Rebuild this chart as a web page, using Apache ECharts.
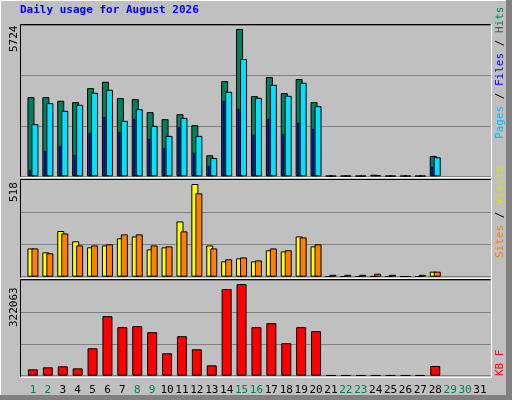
<!DOCTYPE html>
<html><head><meta charset="utf-8">
<script src="https://cdn.jsdelivr.net/npm/echarts@6/dist/echarts.min.js"></script>
<style>html,body{margin:0;padding:0;background:#c0c0c0}#c{width:512px;height:400px}</style>
</head><body><div id="c"></div>
<script>
const days = Array.from({length:31},(_,i)=>String(i+1));
const weekend = ['1','2','8','9','15','16','22','23','29','30'];
const hits  = [2996,2996,2857,2806,3337,3577,2958,2920,2427,2161,2351,1934,796,3602,5574,3034,3754,3147,3678,2806,20,20,20,60,20,20,20,771,null,null,null];
const files = [1972,2768,2477,2705,3160,3274,2098,2541,1909,1529,2212,1529,695,3198,4437,2970,3463,3046,3539,2654,20,20,20,40,20,20,20,721,null,null,null];
const pages = [240,961,1150,809,1643,2250,1681,2174,1416,1074,1871,885,392,2857,2553,1567,2174,1605,2022,1795,null,null,null,20,null,null,null,367,null,null,null];
const visits= [151,130,244,189,157,167,205,215,146,157,295,495,167,82,98,82,141,135,215,162,2,2,2,3,2,2,2,27,null,null,null];
const sites = [151,125,231,167,167,173,226,226,167,162,242,445,151,93,103,87,151,141,210,173,10,10,10,16,10,2,10,27,null,null,null];
const kbytes= [21470,28250,31640,24860,92660,201140,163850,167240,146900,75710,133340,89270,35030,292670,309620,163850,177410,109610,163850,150290,1500,1500,1500,1500,1500,1500,1500,32800,null,null,null];
const maxHits=5724, maxSites=518, maxKB=322063;

const chart = echarts.init(document.getElementById('c'));
const F = 'DejaVu Sans Mono';
const panels = [{top:25,h:151.3,max:maxHits},{top:179.7,h:97,max:maxSites},{top:280.3,h:95.4,max:maxKB}];
const grids=[], xAxes=[], yAxes=[];
panels.forEach((p,i)=>{
  grids.push({left:20,width:470.7,top:p.top,height:p.h,show:false});
  grids.push({left:25.5,width:461.9,top:p.top,height:p.h,show:false});
});
grids.push({left:22.5,width:461.9,top:panels[0].top,height:panels[0].h,show:false});
for(let g=0; g<7; g++){
  const p=panels[g===6?0:Math.floor(g/2)];
  const isData = g%2===1 || g===6;
  xAxes.push({type:'category',data:days,gridIndex:g,show: g===5,
    axisLine:{show:false},axisTick:{show:false},
    axisLabel:{interval:0,margin:9,fontFamily:F,fontSize:11,
      formatter:v=>weekend.includes(v)?'{w|'+v+'}':'{n|'+v+'}',
      rich:{w:{color:'#00805c',fontFamily:F,fontSize:11},n:{color:'#000',fontFamily:F,fontSize:11}}}});
  yAxes.push({type:'value',gridIndex:g,min:0,max:p.max,interval:p.max/3,
    axisLabel:{show:false},axisLine:{show:false},axisTick:{show:false},
    splitLine:{show:!isData,lineStyle:{color:'#808080',width:1}}});
}
const bs = {borderColor:'#000',borderWidth:1};
const series=[
  {type:'bar',xAxisIndex:1,yAxisIndex:1,data:hits,barWidth:7,barGap:'-43%',itemStyle:{color:'#00805c',...bs},z:2},
  {type:'bar',xAxisIndex:1,yAxisIndex:1,data:files,barWidth:7,barGap:'-43%',itemStyle:{color:'#00e0ff',...bs},z:3},
  {type:'bar',xAxisIndex:6,yAxisIndex:6,data:pages,barWidth:2,itemStyle:{color:'#0000ff',borderColor:'#000',borderWidth:0.5},z:4},
  {type:'bar',xAxisIndex:3,yAxisIndex:3,data:visits,barWidth:7,barGap:'-43%',itemStyle:{color:'#ffff00',...bs},z:2},
  {type:'bar',xAxisIndex:3,yAxisIndex:3,data:sites,barWidth:7,barGap:'-43%',itemStyle:{color:'#ff8000',...bs},z:3},
  {type:'bar',xAxisIndex:5,yAxisIndex:5,data:kbytes,barWidth:10,itemStyle:{color:'#ff0000',...bs},z:2}
];
const gfx=[
  {type:'line',shape:{x1:0.5,y1:0.5,x2:511,y2:0.5},style:{stroke:'#ffffff',lineWidth:1}},
  {type:'line',shape:{x1:0.5,y1:0.5,x2:0.5,y2:399},style:{stroke:'#ffffff',lineWidth:1}},
  {type:'rect',shape:{x:506,y:0,width:6,height:400},style:{fill:'#808080'}},
  {type:'rect',shape:{x:0,y:395,width:512,height:5},style:{fill:'#808080'}},
  {type:'text',left:20,top:5,style:{text:'Daily usage for August 2026',fill:'#0000ff',font:'bold 11px '+F}}
];
panels.forEach(p=>{
  const x1=20.5,x2=490.5,y1=Math.round(p.top)-0.5,y2=Math.round(p.top+p.h)+0.5;
  gfx.push({type:'line',z:10,shape:{x1:x1,y1:y1,x2:x2,y2:y1},style:{stroke:'#000',lineWidth:1}});
  gfx.push({type:'line',z:10,shape:{x1:x1,y1:y1,x2:x1,y2:y2},style:{stroke:'#000',lineWidth:1}});
  gfx.push({type:'line',z:10,shape:{x1:x1,y1:y2+1,x2:x2+1,y2:y2+1},style:{stroke:'#fff',lineWidth:1}});
  gfx.push({type:'line',z:10,shape:{x1:x2+1,y1:y1,x2:x2+1,y2:y2+1},style:{stroke:'#fff',lineWidth:1}});
});
function vtext(txt,x,y,rich){return {type:'text',x:x,y:y,rotation:Math.PI/2,
  style:{text:txt,rich:rich,font:'11px '+F,fill:'#000',align:'left',verticalAlign:'middle'}};}
gfx.push(vtext(String(maxHits),14,52,{}));
gfx.push(vtext(String(maxSites),14,202,{}));
gfx.push(vtext(String(maxKB),14,327,{}));
const R=c=>({fill:c,font:'11px '+F});
gfx.push(vtext('{p|Pages}{s| / }{f|Files}{s| / }{h|Hits}',500,139,{p:R('#00c0ff'),f:R('#0000ff'),h:R('#00805c'),s:R('#000')}));
gfx.push(vtext('{a|Sites}{s| / }{b|Visits}',500,258,{a:R('#ff8000'),b:R('#e0e000'),s:R('#000')}));
gfx.push(vtext('{k|KB F}',500,376,{k:R('#ff0000')}));
chart.setOption({animation:false,backgroundColor:'#c0c0c0',grid:grids,xAxis:xAxes,yAxis:yAxes,series:series,graphic:gfx});
</script></body></html>
